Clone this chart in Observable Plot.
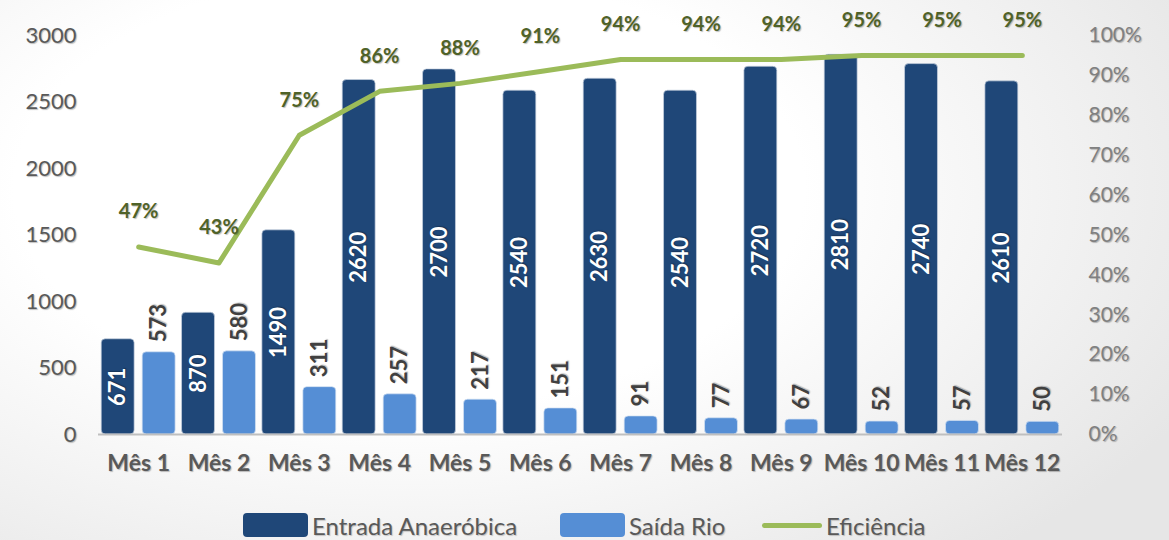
<!DOCTYPE html>
<html>
<head>
<meta charset="utf-8">
<script src="https://cdn.jsdelivr.net/npm/d3@7"></script>
<script src="https://cdn.jsdelivr.net/npm/@observablehq/plot@0.6"></script>
<style>
  html, body { margin: 0; padding: 0; }
  body {
    width: 1169px; height: 540px; overflow: hidden; position: relative;
    background: radial-gradient(ellipse 75% 90% at 35% 35%, #ffffff 45%, #e6e6e6 100%);
    font-family: Lato, "Open Sans", sans-serif;
  }
  #chart svg { background: transparent; }
  #chart svg text { text-shadow: 1px 1px 1px rgba(0,0,0,0.25); }
  #legend {
    position: absolute; top: 511px; left: 0; width: 1169px; height: 30px;
    font-size: 24px; color: #595959;
  }
  .item { position: absolute; top: 0; display: flex; align-items: center; height: 28px; text-shadow: 1px 1px 1px rgba(0,0,0,0.2); }
  .sw { width: 65px; height: 24px; border-radius: 4px; margin-right: 4px; }
  .ln { width: 60px; height: 5px; border-radius: 3px; margin-right: 4px; }
</style>
</head>
<body>
<div id="chart"></div>
<div id="legend"></div>
<script>
const months = ["Mês 1","Mês 2","Mês 3","Mês 4","Mês 5","Mês 6","Mês 7","Mês 8","Mês 9","Mês 10","Mês 11","Mês 12"];
const entrada = [671,870,1490,2620,2700,2540,2630,2540,2720,2810,2740,2610];
const saida = [573,580,311,257,217,151,91,77,67,52,57,50];
const eficiencia = [47,43,75,86,88,91,94,94,94,95,95,95];
const leftTicks = [0,500,1000,1500,2000,2500,3000];
const rightTicks = [0,10,20,30,40,50,60,70,80,90,100];
const seriesNames = ["Entrada Anaeróbica","Saída Rio","Eficiência"];
const colors = ["#1f4778","#558ed5","#9bbb59"];

const scale = 30; // 100% -> 3000
const rows = months.map((m, i) => ({i, m, e: entrada[i], s: saida[i], p: eficiencia[i], py: eficiencia[i] * scale}));

const chart = Plot.plot({
  width: 1169,
  height: 500,
  marginLeft: 98,
  marginRight: 107,
  marginTop: 35,
  marginBottom: 66,
  style: {fontFamily: "Lato, 'Open Sans', sans-serif", background: "transparent"},
  x: {domain: [-0.5, 11.5], axis: null, label: null},
  y: {domain: [0, 3000], axis: null, label: null},
  marks: [
    Plot.rectY(rows, {x1: d => d.i - 0.46, x2: d => d.i - 0.05, y1: 0, y2: "e", dy: -6, insetBottom: -6, fill: colors[0], rx: 4, stroke: "#c8d3e0", strokeWidth: 0.7}),
    Plot.rectY(rows, {x1: d => d.i + 0.05, x2: d => d.i + 0.46, y1: 0, y2: "s", dy: -6, insetBottom: -6, fill: colors[1], rx: 4, stroke: "#d5e2f2", strokeWidth: 0.7}),
    Plot.ruleY([0], {stroke: "#bfbfbf", strokeWidth: 2}),
    Plot.lineY(rows, {x: "i", y: "py", stroke: colors[2], strokeWidth: 5, strokeLinecap: "round", strokeLinejoin: "round"}),
    Plot.text(rows, {x: d => d.i - 0.255, y: d => d.e / 2, dy: -3, text: d => String(d.e), rotate: -90, fill: "white", fontSize: 22, fontWeight: "bold"}),
    Plot.text(rows, {x: d => d.i + 0.255, y: "s", text: d => String(d.s), rotate: -90, textAnchor: "start", dy: -16, fill: "#404040", fontSize: 22, fontWeight: "bold"}),
    Plot.text(rows, {x: "i", y: "py", text: d => d.p + "%", dy: -35, fill: "#4f6228", fontSize: 20, fontWeight: "bold"}),
    Plot.axisY(leftTicks, {anchor: "left", tickSize: 0, tickPadding: 22, fontSize: 22, color: "#595959", label: null, tickFormat: v => String(v)}),
    Plot.axisY(rightTicks.map(t => t * scale), {anchor: "right", tickSize: 0, tickPadding: 26, fontSize: 21, color: "#808080", label: null, tickFormat: v => (v / scale) + "%"}),
    Plot.axisX(d3.range(12), {anchor: "bottom", tickSize: 0, tickPadding: 20, fontSize: 23, fontWeight: "bold", color: "#595959", label: null, tickFormat: i => months[i]})
  ]
});
document.getElementById("chart").appendChild(chart);

const legend = document.getElementById("legend");
const lefts = [243, 560, 762];
seriesNames.forEach((name, k) => {
  const it = document.createElement("div");
  it.className = "item";
  it.style.left = lefts[k] + "px";
  const sw = document.createElement("div");
  sw.className = k < 2 ? "sw" : "ln";
  sw.style.background = colors[k];
  it.appendChild(sw);
  const t = document.createElement("span");
  t.textContent = name;
  it.appendChild(t);
  legend.appendChild(it);
});
</script>
</body>
</html>
